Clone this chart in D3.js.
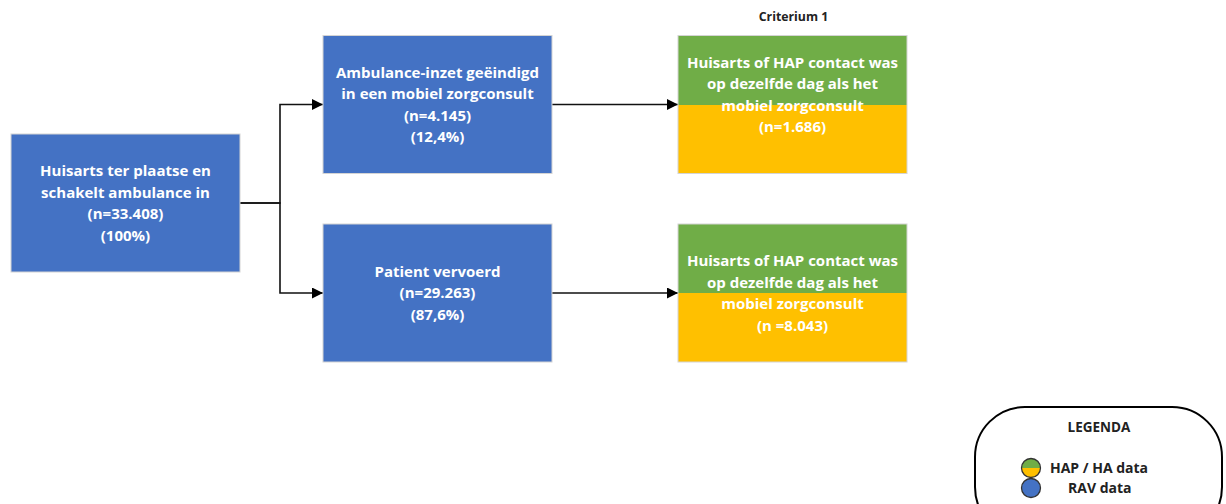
<!DOCTYPE html>
<html>
<head>
<meta charset="utf-8">
<script src="https://cdn.jsdelivr.net/npm/d3@7"></script>
<style>
  body { margin: 0; background: #fff; }
  svg { display: block; }
  text { font-family: "Open Sans", Lato, sans-serif; font-weight: bold; }
</style>
</head>
<body>
<div id="chart"></div>
<script>
// flow nodes: id, column, row, data source, text lines
var nodeIds = ['start', 'mzc', 'vervoerd', 'crit_mzc', 'crit_vervoerd'];
var nodeColumns = ['bron', 'uitkomst', 'uitkomst', 'criterium', 'criterium'];
var nodeRows = ['midden', 'boven', 'onder', 'boven', 'onder'];
var nodeSources = ['RAV', 'RAV', 'RAV', 'HAP', 'HAP'];
var nodeLines = [
  ['Huisarts ter plaatse en', 'schakelt ambulance in', '(n=33.408)', '(100%)'],
  ['Ambulance-inzet geëindigd', 'in een mobiel zorgconsult', '(n=4.145)', '(12,4%)'],
  ['Patient vervoerd', '(n=29.263)', '(87,6%)'],
  ['Huisarts of HAP contact was', 'op dezelfde dag als het', 'mobiel zorgconsult', '(n=1.686)'],
  ['Huisarts of HAP contact was', 'op dezelfde dag als het', 'mobiel zorgconsult', '(n =8.043)']
];
var links = [['start', 'mzc'], ['start', 'vervoerd'], ['mzc', 'crit_mzc'], ['vervoerd', 'crit_vervoerd']];
var columnTitles = [['criterium', 'Criterium 1']];
var legendTitle = 'LEGENDA';
var legendItems = [['HAP', 'HAP / HA data'], ['RAV', 'RAV data']];

var width = 1226, height = 504;
var boxW = 229, boxH = 138;

var svg = d3.select('#chart').append('svg').attr('width', width).attr('height', height);

// layout scales
var xCol = d3.scaleOrdinal().domain(['bron', 'uitkomst', 'criterium']).range([11, 323, 678]);
var yRow = d3.scaleOrdinal().domain(['boven', 'midden', 'onder']).range([104.5, 203, 293]);
var fillTop = d3.scaleOrdinal().domain(['RAV', 'HAP']).range(['#4472C4', '#70AD47']);
var fillBottom = d3.scaleOrdinal().domain(['RAV', 'HAP']).range(['#4472C4', '#FFC000']);

var nodes = nodeIds.map(function(id, i) {
  return { id: id, col: nodeColumns[i], row: nodeRows[i], src: nodeSources[i], lines: nodeLines[i],
           x: xCol(nodeColumns[i]), cy: yRow(nodeRows[i]) };
});
var byId = {};
nodes.forEach(function(n) { byId[n.id] = n; });

// arrow marker
svg.append('defs').append('marker')
  .attr('id', 'arrow')
  .attr('viewBox', '0 0 10 10')
  .attr('refX', 10).attr('refY', 5)
  .attr('markerWidth', 11).attr('markerHeight', 11)
  .attr('markerUnits', 'userSpaceOnUse')
  .attr('orient', 'auto')
  .append('path').attr('d', 'M0,0L10,5L0,10Z').attr('fill', '#000');

// connectors (elbow when rows differ)
svg.selectAll('path.link')
  .data(links)
  .enter()
  .append('path')
  .attr('class', 'link')
  .attr('fill', 'none')
  .attr('stroke', '#111')
  .attr('stroke-width', 1.6)
  .attr('marker-end', 'url(#arrow)')
  .attr('d', function(d) {
    var s = byId[d[0]], t = byId[d[1]];
    var x0 = s.x + boxW, x1 = t.x;
    if (s.cy === t.cy) return 'M' + x0 + ',' + s.cy + 'H' + x1;
    var xm = x0 + 40;
    return 'M' + x0 + ',' + s.cy + 'H' + xm + 'V' + t.cy + 'H' + x1;
  });

// boxes
var box = svg.selectAll('g.node')
  .data(nodes)
  .enter()
  .append('g')
  .attr('class', 'node')
  .attr('transform', function(d) { return 'translate(' + d.x + ',' + (d.cy - boxH / 2) + ')'; });

// full box in the bottom colour, top half painted over it
box.append('rect')
  .attr('width', boxW).attr('height', boxH)
  .attr('fill', function(d) { return fillBottom(d.src); });
box.append('rect')
  .attr('width', boxW).attr('height', boxH / 2)
  .attr('fill', function(d) { return fillTop(d.src); })
  .attr('shape-rendering', 'crispEdges');
box.append('rect')
  .attr('width', boxW).attr('height', boxH)
  .attr('fill', 'none')
  .attr('stroke', '#d4d4d4')
  .attr('stroke-width', 1);

var lineH = 21.5;
box.each(function(d) {
  var g = d3.select(this);
  var shift = d.id === 'crit_mzc' ? -10 : 0;
  var y0 = boxH / 2 - (d.lines.length - 1) * lineH / 2 + shift;
  g.selectAll('text')
    .data(d.lines)
    .enter()
    .append('text')
    .attr('x', boxW / 2)
    .attr('y', function(l, i) { return y0 + i * lineH; })
    .attr('dy', '0.35em')
    .attr('text-anchor', 'middle')
    .attr('fill', '#fff')
    .style('font-size', '15px')
    .text(function(l) { return l; });
});

// column titles
svg.selectAll('text.coltitle')
  .data(columnTitles)
  .enter()
  .append('text')
  .attr('class', 'coltitle')
  .attr('x', function(d) { return xCol(d[0]) + boxW / 2 + 1; })
  .attr('y', 17)
  .attr('dy', '0.35em')
  .attr('text-anchor', 'middle')
  .attr('fill', '#222')
  .style('font-size', '12.3px')
  .text(function(d) { return d[1]; });

// legend
var leg = svg.append('g').attr('transform', 'translate(975,407)');
leg.append('rect')
  .attr('width', 247).attr('height', 130)
  .attr('rx', 50).attr('ry', 50)
  .attr('fill', '#fff')
  .attr('stroke', '#000')
  .attr('stroke-width', 2);
leg.append('text')
  .attr('x', 124).attr('y', 20)
  .attr('dy', '0.35em')
  .attr('text-anchor', 'middle')
  .attr('fill', '#222')
  .style('font-size', '13.5px')
  .text(legendTitle);

var legY = d3.scalePoint().domain(legendItems.map(function(d) { return d[0]; })).range([61, 81]);
var r = 9.5;
var item = leg.selectAll('g.item')
  .data(legendItems)
  .enter()
  .append('g')
  .attr('class', 'item')
  .attr('transform', function(d) { return 'translate(56,' + legY(d[0]) + ')'; });

item.append('path')
  .attr('d', 'M' + (-r) + ',0A' + r + ',' + r + ' 0 0 1 ' + r + ',0Z')
  .attr('fill', function(d) { return fillTop(d[0]); });
item.append('path')
  .attr('d', 'M' + (-r) + ',0A' + r + ',' + r + ' 0 0 0 ' + r + ',0Z')
  .attr('fill', function(d) { return fillBottom(d[0]); });
item.append('circle')
  .attr('r', r)
  .attr('fill', 'none')
  .attr('stroke', '#333')
  .attr('stroke-width', 1.3);
item.append('text')
  .attr('x', function(d, i) { return i === 0 ? 19 : 37; })
  .attr('dy', '0.35em')
  .attr('fill', '#222')
  .style('font-size', '14px')
  .text(function(d) { return d[1]; });
</script>
</body>
</html>
